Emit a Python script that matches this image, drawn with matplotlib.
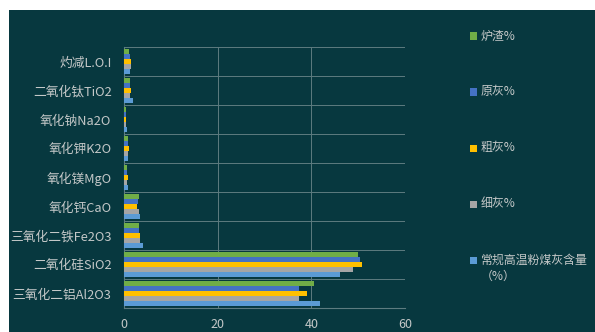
import matplotlib
matplotlib.use("Agg")
import matplotlib.pyplot as plt
from matplotlib.patches import Rectangle
import numpy as np

plt.rcParams['font.family'] = ['Noto Sans CJK SC', 'DejaVu Sans']

categories = ['三氧化二铝Al2O3', '二氧化硅SiO2', '三氧化二铁Fe2O3', '氧化钙CaO',
              '氧化镁MgO', '氧化钾K2O', '氧化钠Na2O', '二氧化钛TiO2', '灼减L.O.I']
series_names = ['炉渣%', '原灰%', '粗灰%', '细灰%', '常规高温粉煤灰含量\n（%）']
slag   = [40.6, 50.0, 3.3, 3.1, 0.7, 0.8, 0.5, 1.2, 1.0]
raw    = [37.4, 50.4, 3.3, 3.0, 0.6, 0.8, 0.4, 1.3, 1.3]
coarse = [39.0, 50.9, 3.4, 2.7, 0.8, 1.0, 0.5, 1.5, 1.6]
fine   = [37.4, 49.0, 3.4, 3.3, 0.7, 0.9, 0.5, 1.3, 1.4]
normal = [41.9, 46.2, 4.0, 3.4, 0.8, 0.9, 0.6, 1.9, 1.2]
values = [slag, raw, coarse, fine, normal]
colors = ['#70ad47', '#4472c4', '#ffc000', '#a5a5a5', '#5b9bd5']
xticks = [0, 20, 40, 60]

bg = '#07383f'
txt = '#c4c8c8'
grid = '#5d7c80'

fig = plt.figure(figsize=(5.95, 3.32), dpi=100, facecolor='white')
fig.patches.append(Rectangle((9/595, 0), 1 - 9/595, 1 - 10/332, transform=fig.transFigure,
                             facecolor=bg, edgecolor='none', zorder=-10))
ax = fig.add_axes([124/595, 24/332, (405-124)/595, (308-47)/332])
ax.set_zorder(5)
ax.patch.set_visible(False)

y = np.arange(len(categories))
h = 0.172
for i, (vals, c) in enumerate(zip(values, colors)):
    off = (2 - i) * h
    ax.barh(y + off, vals, height=h, color=c, label=series_names[i], zorder=3)

ax.set_ylim(-0.5, len(categories) - 0.5)
ax.set_xlim(0, 60)
ax.set_xticks(xticks)
ax.set_xticklabels([str(t) for t in xticks], color=txt, fontsize=9)
ax.set_yticks(y)
ax.set_yticklabels(categories, color=txt, fontsize=9.2)
ax.set_yticks(np.arange(len(categories) + 1) - 0.5, minor=True)
ax.tick_params(axis='both', length=0, which='both')
ax.tick_params(axis='y', pad=9)
ax.tick_params(axis='x', pad=7)
ax.grid(axis='x', color=grid, linewidth=0.7, zorder=0)
ax.grid(axis='y', which='minor', color=grid, linewidth=0.7, zorder=0)
for s in ['top', 'right']:
    ax.spines[s].set_visible(False)
ax.spines['left'].set_color(grid)
ax.spines['bottom'].set_color(grid)

# legend drawn as separate entries
leg_y = [36, 92, 148, 204, 260]
for name, c, yy in zip(series_names, colors, leg_y):
    fy = 1 - yy / 332
    fig.patches.append(Rectangle((470/595, fy - 3.5/332), 7/595, 7/332, transform=fig.transFigure,
                                 facecolor=c, edgecolor='none', zorder=2))
    lines = name.split('\n')
    for k, line in enumerate(lines):
        fig.text(481/595, fy - k * 16/332, line, color=txt, fontsize=8.6, va='center', ha='left')

fig.savefig('out.png', dpi=100, facecolor='white')
